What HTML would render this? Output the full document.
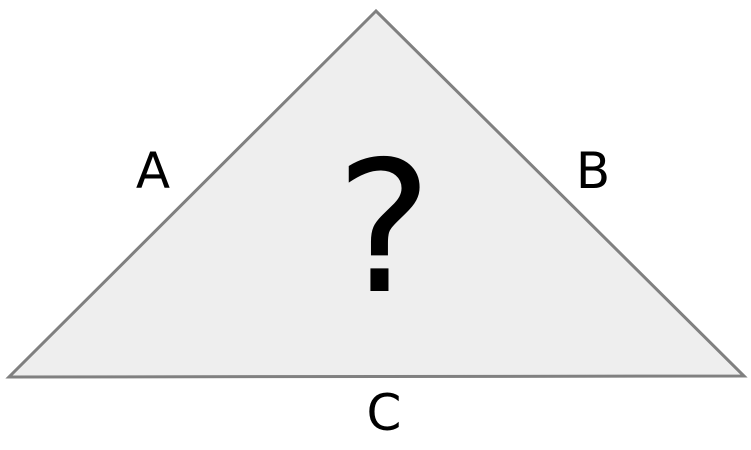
<!DOCTYPE html>
<html>
<head>
<meta charset="utf-8">
<style>
  html, body { margin: 0; padding: 0; background: #ffffff; }
  svg { display: block; }
  text { font-family: "DejaVu Sans", "Liberation Sans", sans-serif; fill: #000; }
</style>
</head>
<body>
<svg width="751" height="450" viewBox="0 0 751 450">
  <polygon points="376,11 9,377 744,376" fill="#eeeeee" stroke="#808080" stroke-width="3" stroke-linejoin="miter"/>
  <text x="153" y="188" font-size="50" text-anchor="middle">A</text>
  <text x="593" y="188" font-size="50" text-anchor="middle">B</text>
  <text x="384" y="430" font-size="50" text-anchor="middle">C</text>
  <text x="384" y="291" font-size="182" text-anchor="middle">?</text>
</svg>
</body>
</html>
